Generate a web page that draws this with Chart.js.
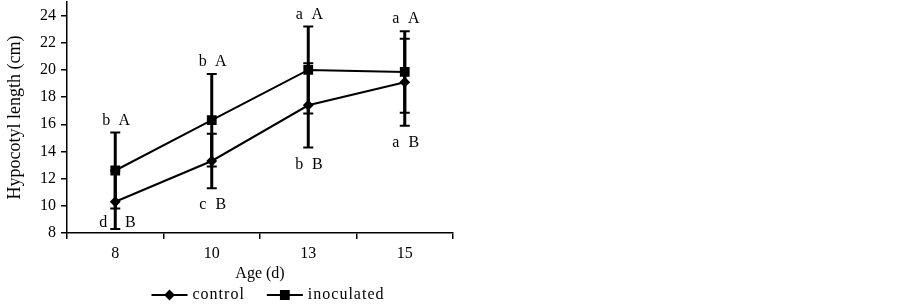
<!DOCTYPE html>
<html lang="en">
<head>
  <meta charset="UTF-8">
  <title>Hypocotyl length</title>
  <script src="https://cdn.jsdelivr.net/npm/chart.js"></script>
  <style>
    html, body { margin: 0; padding: 0; background: #fff; }
    .chart-box { position: relative; width: 902px; height: 306px; }
  </style>
</head>
<body>
  <div class="chart-box"><canvas id="hypocotylChart"></canvas></div>
  <script>
    // values
    const ages = ['8', '10', '13', '15'];
    const control = [10.3, 13.3, 17.4, 19.1];
    const controlLow = [8.3, 11.3, 14.3, 15.9];
    const controlHigh = [12.6, 15.3, 20.5, 22.3];
    const inoculated = [12.6, 16.3, 20.0, 19.85];
    const inoculatedLow = [9.8, 12.9, 16.8, 16.85];
    const inoculatedHigh = [15.4, 19.7, 23.2, 22.85];
    const controlLetters = [['d', 'B'], ['c', 'B'], ['b', 'B'], ['a', 'B']];
    const inoculatedLetters = [['b', 'A'], ['b', 'A'], ['a', 'A'], ['a', 'A']];
    const yTicks = [8, 10, 12, 14, 16, 18, 20, 22, 24];

    const serif = '"Liberation Serif", "DejaVu Serif", serif';

    // error bars under the markers, letters and legend on top
    const extras = {
      id: 'extras',
      beforeDatasetsDraw(chart) {
        const { ctx, scales: { x, y } } = chart;
        ctx.save();
        ctx.strokeStyle = '#000';
        const bar = (i, lo, hi) => {
          const px = x.getPixelForValue(i);
          const top = y.getPixelForValue(hi);
          const bot = y.getPixelForValue(lo);
          ctx.lineWidth = 3;
          ctx.beginPath();
          ctx.moveTo(px, top);
          ctx.lineTo(px, bot);
          ctx.stroke();
          ctx.lineWidth = 2;
          ctx.beginPath();
          ctx.moveTo(px - 5, top); ctx.lineTo(px + 5, top);
          ctx.moveTo(px - 5, bot); ctx.lineTo(px + 5, bot);
          ctx.stroke();
        };
        ages.forEach((a, i) => {
          bar(i, controlLow[i], controlHigh[i]);
          bar(i, inoculatedLow[i], inoculatedHigh[i]);
        });
        ctx.restore();
      },
      afterDraw(chart) {
        const { ctx, chartArea, scales: { x, y } } = chart;
        ctx.save();
        ctx.fillStyle = '#000';
        ctx.font = '16px ' + serif;
        ctx.textAlign = 'center';
        ctx.textBaseline = 'middle';
        ages.forEach((a, i) => {
          const px = x.getPixelForValue(i);
          const up = y.getPixelForValue(inoculatedHigh[i]) - 12;
          ctx.fillText(inoculatedLetters[i][0], px - 9, up);
          ctx.fillText(inoculatedLetters[i][1], px + 9, up);
          let low = y.getPixelForValue(controlLow[i]) + 17;
          let l = -9, r = 9;
          if (low > chartArea.bottom - 10) {
            low = chartArea.bottom - 10;
            l = -12; r = 15;
          }
          ctx.fillText(controlLetters[i][0], px + l, low);
          ctx.fillText(controlLetters[i][1], px + r, low);
        });

        // legend
        const items = [
          { text: 'control', style: 'rectRot', radius: 4 },
          { text: 'inoculated', style: 'rect', radius: 5.5 }
        ];
        const symW = 36, gapText = 5, gapItem = 22;
        ctx.textAlign = 'left';
        ctx.letterSpacing = '1px';
        let total = 0;
        items.forEach((it, k) => {
          it.w = ctx.measureText(it.text).width;
          total += symW + gapText + it.w + (k ? gapItem : 0);
        });
        let lx = (chartArea.left + chartArea.right) / 2 + 8 - total / 2;
        const ly = 295;
        items.forEach(it => {
          ctx.strokeStyle = '#000';
          ctx.lineWidth = 2;
          ctx.beginPath();
          ctx.moveTo(lx, ly);
          ctx.lineTo(lx + symW, ly);
          ctx.stroke();
          Chart.helpers.drawPoint(ctx, { pointStyle: it.style, radius: it.radius, borderWidth: 1 }, lx + symW / 2, ly);
          ctx.fill();
          ctx.fillText(it.text, lx + symW + gapText, ly);
          lx += symW + gapText + it.w + gapItem;
        });
        ctx.restore();
      }
    };

    const ctx = document.getElementById('hypocotylChart').getContext('2d');
    new Chart(ctx, {
      type: 'line',
      data: {
        labels: ages,
        datasets: [
          {
            label: 'control',
            data: control,
            borderColor: '#000',
            backgroundColor: '#000',
            borderWidth: 2,
            pointStyle: 'rectRot',
            pointRadius: 4,
            pointBackgroundColor: '#000',
            pointBorderColor: '#000',
            tension: 0
          },
          {
            label: 'inoculated',
            data: inoculated,
            borderColor: '#000',
            backgroundColor: '#000',
            borderWidth: 2,
            pointStyle: 'rect',
            pointRadius: 5.5,
            pointBackgroundColor: '#000',
            pointBorderColor: '#000',
            tension: 0
          }
        ]
      },
      options: {
        responsive: true,
        maintainAspectRatio: false,
        animation: false,
        layout: { autoPadding: false, padding: { left: 0, top: 2, right: 449, bottom: 0 } },
        plugins: {
          legend: { display: false },
          tooltip: { enabled: false }
        },
        scales: {
          x: {
            offset: true,
            grid: { offset: true, drawOnChartArea: false, tickLength: 6, color: '#000', lineWidth: 1.5 },
            border: { color: '#000', width: 1.5 },
            ticks: { color: '#000', padding: 5, font: { family: serif, size: 16 } },
            title: { display: true, text: 'Age (d)', color: '#000', font: { family: serif, size: 16 }, padding: { top: 2, bottom: 23 } },
            afterFit(s) { s.height = 73; s.paddingLeft = 0; s.paddingRight = 0; }
          },
          y: {
            min: 8,
            max: 25,
            afterBuildTicks(s) { s.ticks = yTicks.map(v => ({ value: v })); },
            grid: { drawOnChartArea: false, tickLength: 6, color: '#000', lineWidth: 1.5 },
            border: { color: '#000', width: 1.5 },
            ticks: { color: '#000', padding: 5, font: { family: serif, size: 16 } },
            title: { display: true, text: 'Hypocotyl length (cm)', color: '#000', font: { family: serif, size: 18 }, padding: { top: 4, bottom: 0 } },
            afterFit(s) { s.width = 67; s.paddingTop = 0; s.paddingBottom = 0; }
          }
        }
      },
      plugins: [extras]
    });
  </script>
</body>
</html>
